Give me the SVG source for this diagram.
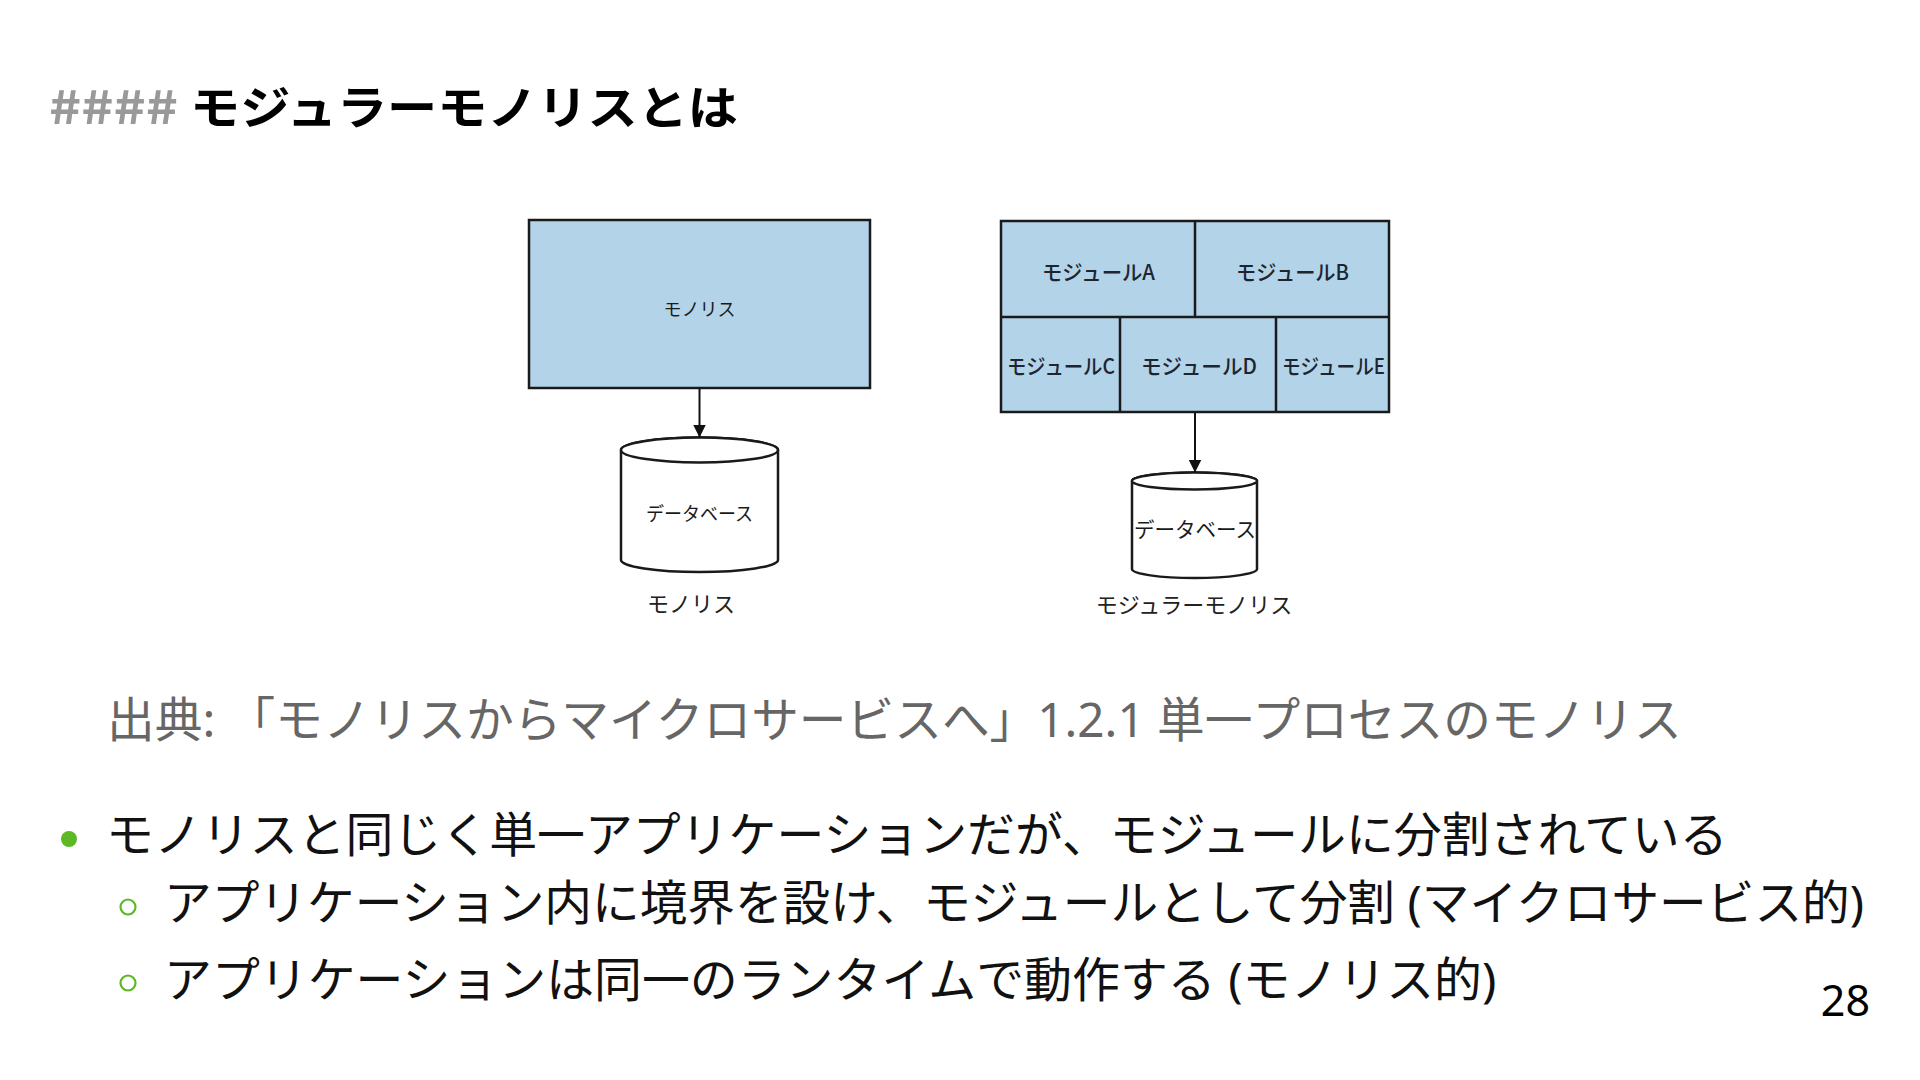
<svg xmlns="http://www.w3.org/2000/svg" width="1920" height="1080" viewBox="0 0 1920 1080">
<defs>
<style>
.title{font-family:"Noto Sans CJK JP","Noto Sans",sans-serif;font-weight:bold;font-size:46px;}
.body{font-family:"Noto Sans","Noto Sans CJK JP",sans-serif;font-size:47.9px;fill:#111;}
.cite{font-family:"Noto Sans","Noto Sans CJK JP",sans-serif;font-size:47.7px;fill:#666;}
.box{fill:#b3d3e9;stroke:#1a1a1a;stroke-width:2.5;}
.div{stroke:#1a1a1a;stroke-width:2.5;fill:none;}
.db{fill:#fff;stroke:#1a1a1a;stroke-width:2.5;}
.mod{font-family:"Noto Sans CJK JP",sans-serif;font-size:21px;font-weight:500;fill:#1c2530;text-anchor:middle;}
.dt{font-family:"Noto Sans CJK JP",sans-serif;fill:#1a1a1a;text-anchor:middle;}
.cap{font-family:"Noto Sans CJK JP",sans-serif;font-size:22px;fill:#222;text-anchor:middle;}
.conn{stroke:#111;stroke-width:2;fill:none;}
</style>
<marker id="ah" markerUnits="userSpaceOnUse" markerWidth="14" markerHeight="14" refX="13" refY="6.5" orient="auto">
<path d="M0,0 L13,6.5 L0,13 z" fill="#111"/>
</marker>
</defs>
<rect width="1920" height="1080" fill="#fff"/>

<g id="title">
<text class="title" x="49" y="124" fill="#999" textLength="129" lengthAdjust="spacingAndGlyphs">####</text>
<text class="title" x="190" y="124" fill="#000" textLength="548" lengthAdjust="spacingAndGlyphs">モジュラーモノリスとは</text>
</g>

<g id="monolith-box">
<rect class="box" x="529" y="220" width="341" height="168"/>
<text class="dt" x="699.5" y="316" font-size="18">モノリス</text>
</g>
<g id="monolith-db">
<path class="db" d="M621,450 L621,560 A78.5,12 0 0 0 778,560 L778,450 A78.5,12.5 0 0 0 621,450 Z"/>
<ellipse class="db" cx="699.5" cy="450" rx="78.5" ry="12.5"/>
<text class="dt" x="699.5" y="521" font-size="19" textLength="107" lengthAdjust="spacingAndGlyphs">データベース</text>
</g>
<g id="monolith-caption">
<text class="cap" x="691" y="612">モノリス</text>
</g>

<g id="modular-box">
<rect class="box" x="1001" y="221" width="388" height="191"/>
<path class="div" d="M1001,317 H1389 M1195,221 V317 M1120,317 V412 M1276,317 V412"/>
</g>
<g id="module-a"><text class="mod" x="1098.5" y="280" textLength="113" lengthAdjust="spacingAndGlyphs">モジュールA</text></g>
<g id="module-b"><text class="mod" x="1292.5" y="280" textLength="113" lengthAdjust="spacingAndGlyphs">モジュールB</text></g>
<g id="module-c"><text class="mod" x="1061" y="374" textLength="108" lengthAdjust="spacingAndGlyphs">モジュールC</text></g>
<g id="module-d"><text class="mod" x="1199" y="374" textLength="116" lengthAdjust="spacingAndGlyphs">モジュールD</text></g>
<g id="module-e"><text class="mod" x="1333.5" y="374" textLength="103" lengthAdjust="spacingAndGlyphs">モジュールE</text></g>
<g id="modular-db">
<path class="db" d="M1132,481 L1132,569 A62.5,9 0 0 0 1257,569 L1257,481 A62.5,8.5 0 0 0 1132,481 Z"/>
<ellipse class="db" cx="1194.5" cy="481" rx="62.5" ry="8.5"/>
<text class="dt" x="1195" y="537" font-size="21" textLength="122" lengthAdjust="spacingAndGlyphs">データベース</text>
</g>
<g id="modular-caption">
<text class="cap" x="1194" y="613">モジュラーモノリス</text>
</g>

<g id="connectors">
<line class="conn" x1="699.5" y1="389" x2="699.5" y2="437.5" marker-end="url(#ah)"/>
<line class="conn" x1="1195" y1="413" x2="1195" y2="472.5" marker-end="url(#ah)"/>
</g>

<g id="citation">
<text class="cite" x="107" y="737">出典: 「モノリスからマイクロサービスへ」1.2.1 単一プロセスのモノリス</text>
</g>

<g id="bullets">
<circle cx="69" cy="839" r="8" fill="#5cb825"/>
<text class="body" x="106" y="852">モノリスと同じく単一アプリケーションだが、モジュールに分割されている</text>
<circle cx="128" cy="907" r="7.5" fill="none" stroke="#5cb825" stroke-width="2.2"/>
<text class="body" x="164" y="920" textLength="1700" lengthAdjust="spacingAndGlyphs">アプリケーション内に境界を設け、モジュールとして分割 (マイクロサービス的)</text>
<circle cx="128" cy="983" r="7.5" fill="none" stroke="#5cb825" stroke-width="2.2"/>
<text class="body" x="164" y="997">アプリケーションは同一のランタイムで動作する (モノリス的)</text>
</g>

<g id="page-number">
<text x="1870" y="1016" font-family="Noto Sans, sans-serif" font-size="43" fill="#000" text-anchor="end">28</text>
</g>
</svg>
